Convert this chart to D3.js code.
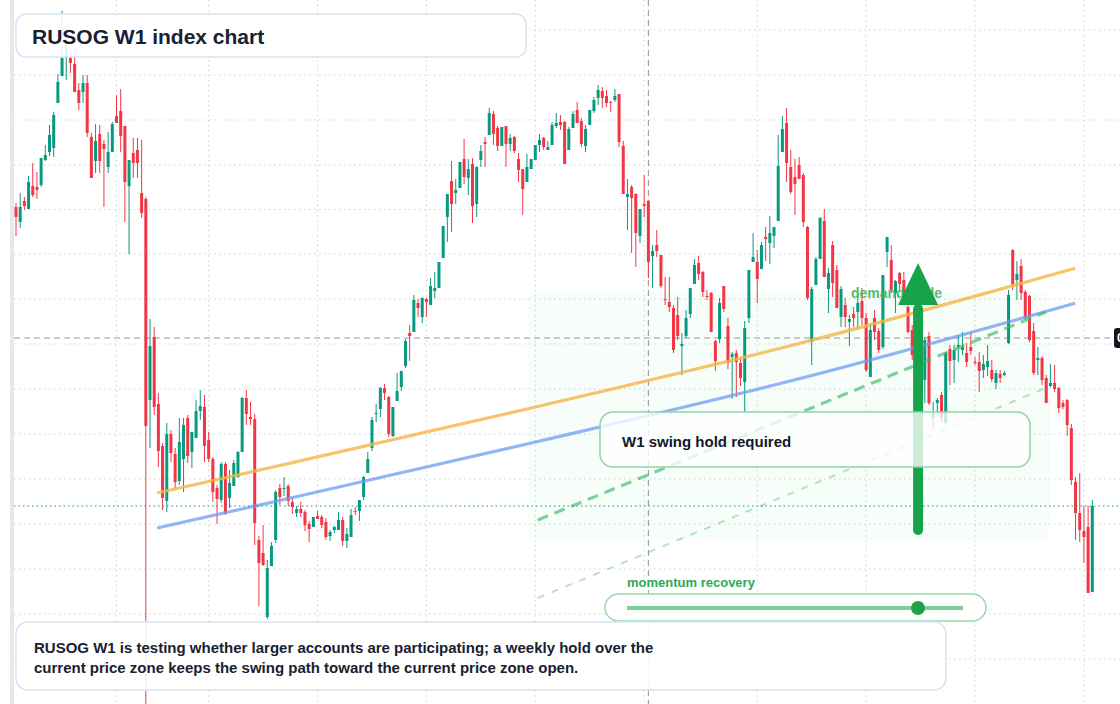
<!DOCTYPE html>
<html><head><meta charset="utf-8">
<script src="https://cdn.jsdelivr.net/npm/d3@7"></script>
<style>
html,body{margin:0;padding:0;background:#fff;overflow:hidden;}
svg{display:block;font-family:"Liberation Sans",Arial,Helvetica,sans-serif;}
</style></head><body>
<svg id="chart" width="1120" height="704"></svg>
<script>
// Weekly candles (index points)
const candleOpen = [
793,778,799,791,814,813,815,840,848,852,
897,924,942,942,936,910,908,917,863,839,
866,856,833,848,884,889,874,814,847,850,
807,801,600,663,596,554,499,566,546,519,
541,582,548,562,589,593,560,541,512,500,
536,502,514,523,548,602,583,581,460,447,
383,434,460,512,511,514,498,487,491,488,
476,473,484,483,478,464,470,470,480,459,
463,489,489,503,527,552,586,591,612,603,
564,599,613,634,667,668,697,683,701,695,
709,712,742,783,819,807,812,841,822,836,
796,840,858,865,886,872,854,874,856,863,
841,831,818,831,840,855,862,850,855,874,
878,878,850,872,890,879,854,875,889,902,
909,904,898,900,906,854,803,813,806,764,
796,799,744,755,745,701,698,692,685,654,
664,686,716,737,728,704,707,659,661,714,
674,643,647,637,618,682,738,738,731,763,
757,764,779,848,877,833,823,835,825,773,
658,715,741,779,711,755,730,683,695,678,
686,688,699,682,623,682,669,653,748,740,
707,727,720,693,670,645,625,620,664,582,
597,605,577,651,640,653,650,647,653,638,
638,630,633,630,617,626,625,657,750,720,
734,708,704,669,640,642,622,614,617,612,
597,600,572,518,487,469,473,408];
const candleHigh = [
797,807,803,824,837,828,842,855,875,888,
926,989,958,950,952,917,925,925,867,876,
875,860,868,878,905,911,874,840,862,862,
860,803,681,673,607,557,577,570,552,582,
582,585,568,600,610,605,568,543,515,538,
538,530,540,549,603,610,598,586,464,475,
440,458,510,516,523,516,502,494,498,490,
479,483,489,485,482,470,474,488,483,472,
491,493,500,524,548,583,596,613,616,604,
593,627,629,661,675,705,701,703,702,722,
728,738,774,806,839,821,838,861,841,842,
834,855,863,892,889,874,873,874,866,864,
847,831,846,841,855,866,863,859,878,887,
885,879,873,889,898,882,875,890,903,915,
913,910,899,911,906,859,821,815,807,791,
825,800,755,770,745,723,723,695,703,667,
690,712,741,744,729,710,708,660,702,714,
682,648,650,642,679,730,767,750,758,773,
784,773,865,884,892,850,841,843,827,774,
713,743,783,791,732,759,735,714,702,685,
693,707,712,687,677,690,672,725,763,755,
720,728,728,695,675,660,655,663,668,598,
602,608,648,655,655,665,668,657,668,643,
648,645,655,640,630,630,629,710,751,739,
741,710,705,677,653,644,625,636,635,613,
600,601,576,523,527,494,494,500];
const candleLow = [
764,772,790,791,803,801,813,839,844,843,
897,924,920,927,908,890,897,863,822,827,
827,793,827,848,877,848,778,746,822,822,
782,290,552,585,533,490,488,538,512,515,
508,537,532,562,580,538,538,498,476,497,
485,492,514,522,548,575,575,455,394,434,
381,434,457,495,504,494,486,483,483,469,
458,473,481,472,460,459,467,470,454,452,
463,485,479,500,527,549,578,583,600,563,
563,599,609,632,639,668,683,677,683,695,
702,712,742,758,768,796,812,816,805,777,
783,833,833,865,855,849,854,833,849,847,
818,785,818,831,840,848,850,850,855,872,
870,836,850,872,877,853,848,875,887,895,
892,893,888,898,853,806,770,747,733,757,
783,722,712,743,712,695,688,647,660,625,
662,682,716,720,703,700,668,629,657,688,
631,601,603,614,588,677,738,697,731,739,
736,752,779,848,818,806,785,821,773,700,
635,715,741,723,687,703,692,673,673,654,
673,670,675,628,623,660,647,651,733,707,
687,710,700,667,640,615,610,597,595,570,
587,577,574,615,617,638,645,633,645,635,
608,622,624,618,611,617,624,656,710,700,
700,680,658,625,625,615,597,613,608,587,
591,564,515,460,458,437,407,408];
const candleClose = [
783,793,794,818,805,810,842,845,865,885,
918,942,953,937,908,897,917,867,822,859,
839,851,848,876,877,864,818,840,837,837,
787,574,654,593,549,502,566,547,518,558,
575,544,568,589,594,554,541,508,501,536,
487,517,537,548,602,586,581,477,437,435,
432,454,508,503,512,499,493,491,487,475,
471,483,481,475,463,468,473,480,459,466,
485,488,500,523,541,580,587,612,607,566,
593,609,629,659,664,700,692,702,698,714,
712,738,774,806,796,810,838,823,831,794,
833,849,856,887,866,854,873,856,862,849,
830,811,833,841,855,860,853,853,875,877,
875,836,871,886,877,856,871,890,900,910,
902,897,897,904,858,806,806,802,767,791,
794,738,749,749,714,700,693,650,664,656,
682,712,735,726,708,703,668,639,697,691,
637,646,638,622,672,730,743,721,755,761,
767,773,834,871,837,808,816,821,778,702,
711,741,782,723,727,717,692,711,683,681,
682,697,682,630,670,668,650,725,763,710,
719,716,704,668,645,625,650,660,597,587,
600,582,647,639,650,655,653,638,649,637,
629,636,639,621,627,622,627,705,715,726,
707,682,660,627,642,620,597,617,611,592,
593,575,520,487,470,463,407,494];

// grid ticks (price levels and candle indices)
const gridPrices = [970, 925, 880, 835, 790.5, 746, 701, 656, 611, 566, 521, 476, 431, 386, 341];
const gridIndex = [24, 46, 72, 98, 124, 150, 177, 203, 229, 255];
const crosshairIndex = 151;
const crosshairPrice = 662;
const crosshairLabel = "0.662";

// trend lines (candle index, price)
const upperTrendIdx = [33.7, 60.6, 125.1, 187.2, 252.9];
const upperTrendPrice = [507, 532.3, 594, 656.7, 731.7];
const lowerTrendIdx = [33.7, 60.6, 125.1, 187.2, 252.9];
const lowerTrendPrice = [472, 497.3, 559, 621.5, 696.7];
const channelIdx = [124.6, 245.9];
const channelUpperPrice = [480, 688];
const channelLowerPrice = [402, 612];

// demand zone and annotations
const zoneIdx = [122, 246.9];
const zonePrice = [460, 709];
const arrowIdx = 215.4;
const arrowPrice = [470, 737];
const momentumValue = 0.866;

const titleText = "RUSOG W1 index chart";
const noteLines = ["RUSOG W1 is testing whether larger accounts are participating; a weekly hold over the",
                   "current price zone keeps the swing path toward the current price zone open."];
const holdText = "W1 swing hold required";
const zoneText = "demand node";
const sliderText = "momentum recovery";

const W = 1120, H = 704;
const N = candleOpen.length;
const svg = d3.select("#chart");
const x = d3.scaleLinear().domain([0, N - 1]).range([16, 1092.3]);
const y = d3.scaleLinear().domain([296, 1000]).range([704, 0]);

svg.append("rect").attr("width", W).attr("height", H).attr("fill", "#ffffff");
svg.append("rect").attr("x", 10).attr("y", 0).attr("width", 4).attr("height", H).attr("fill", "#e8e8e8");

// grid
const grid = svg.append("g").attr("stroke", "#cfd2d6").attr("stroke-width", 1).attr("stroke-dasharray", "1.5,3.5");
grid.selectAll("line.h").data(gridPrices).join("line").attr("class", "h")
  .attr("x1", 14).attr("x2", W).attr("y1", d => y(d)).attr("y2", d => y(d));
grid.selectAll("line.v").data(gridIndex).join("line").attr("class", "v")
  .attr("x1", d => x(d)).attr("x2", d => x(d)).attr("y1", 0).attr("y2", H);

// zone
svg.append("rect")
  .attr("x", x(zoneIdx[0])).attr("width", x(zoneIdx[1]) - x(zoneIdx[0]))
  .attr("y", y(zonePrice[1])).attr("height", y(zonePrice[0]) - y(zonePrice[1]))
  .attr("rx", 12).attr("fill", "#22c55e").attr("fill-opacity", 0.035);

// crosshair
svg.append("line").attr("x1", x(crosshairIndex)).attr("x2", x(crosshairIndex)).attr("y1", 0).attr("y2", H)
  .attr("stroke", "#9a9a9a").attr("stroke-width", 1.1).attr("stroke-dasharray", "6,4");
svg.append("line").attr("x1", 14).attr("x2", 1114).attr("y1", y(crosshairPrice)).attr("y2", y(crosshairPrice))
  .attr("stroke", "#9a9a9a").attr("stroke-width", 1.1).attr("stroke-dasharray", "6,4");

// candles
const idx = d3.range(N);
const up = "#089981", down = "#f23645";
const cg = svg.append("g");
cg.selectAll("line").data(idx).join("line")
  .attr("x1", i => x(i)).attr("x2", i => x(i))
  .attr("y1", i => y(candleHigh[i])).attr("y2", i => y(candleLow[i]))
  .attr("stroke", i => candleClose[i] >= candleOpen[i] ? up : down).attr("stroke-width", 1);
cg.selectAll("rect").data(idx).join("rect")
  .attr("x", i => x(i) - 1.5).attr("width", 3)
  .attr("y", i => y(Math.max(candleOpen[i], candleClose[i])))
  .attr("height", i => Math.max(1, Math.abs(y(candleOpen[i]) - y(candleClose[i]))))
  .attr("fill", i => candleClose[i] >= candleOpen[i] ? up : down);

// trend lines
const curve = d3.line().x(d => x(d[0])).y(d => y(d[1])).curve(d3.curveMonotoneX);
svg.append("path").attr("d", curve(d3.zip(upperTrendIdx, upperTrendPrice)))
  .attr("fill", "none").attr("stroke", "#f5b544").attr("stroke-opacity", 0.8).attr("stroke-width", 3.2);
svg.append("path").attr("d", curve(d3.zip(lowerTrendIdx, lowerTrendPrice)))
  .attr("fill", "none").attr("stroke", "#6e9cf0").attr("stroke-opacity", 0.75).attr("stroke-width", 3.2);
svg.append("path").attr("d", curve(d3.zip(channelIdx, channelUpperPrice)))
  .attr("fill", "none").attr("stroke", "#3dbb65").attr("stroke-opacity", 0.65).attr("stroke-width", 3.2)
  .attr("stroke-dasharray", "11,7");
svg.append("path").attr("d", curve(d3.zip(channelIdx, channelLowerPrice)))
  .attr("fill", "none").attr("stroke", "#4cc279").attr("stroke-opacity", 0.42).attr("stroke-width", 2)
  .attr("stroke-dasharray", "7,8");

// last price line
svg.append("line").attr("x1", 14).attr("x2", W)
  .attr("y1", y(candleClose[N - 1])).attr("y2", y(candleClose[N - 1]))
  .attr("stroke", up).attr("stroke-width", 1.2).attr("stroke-dasharray", "1.5,3");

// zone label
svg.append("text").attr("x", 851).attr("y", 298).text(zoneText)
  .attr("font-size", 14).attr("font-weight", "bold").attr("fill", "#3fb565").attr("fill-opacity", 0.92);

// arrow
const ax = x(arrowIdx), aBase = y(arrowPrice[0]), aTip = y(arrowPrice[1]);
svg.append("line").attr("x1", ax).attr("x2", ax).attr("y1", aBase).attr("y2", aTip + 46)
  .attr("stroke", "#16a34a").attr("stroke-width", 10).attr("stroke-linecap", "round");
svg.append("path").attr("d", `M${ax - 20},${aTip + 42} L${ax + 20},${aTip + 42} L${ax},${aTip} Z`).attr("fill", "#16a34a");

// hold box
svg.append("rect").attr("x", 600).attr("y", 412).attr("width", 430).attr("height", 55).attr("rx", 13)
  .attr("fill", "#ffffff").attr("fill-opacity", 0.78).attr("stroke", "#8fd3a6").attr("stroke-width", 1.5);
svg.append("text").attr("x", 622).attr("y", 447).text(holdText)
  .attr("font-size", 15).attr("font-weight", "bold").attr("fill", "#111827");

// momentum slider
svg.append("text").attr("x", 627).attr("y", 587).text(sliderText)
  .attr("font-size", 13).attr("font-weight", "bold").attr("fill", "#2ea85a");
svg.append("rect").attr("x", 605).attr("y", 594).attr("width", 381).attr("height", 27).attr("rx", 13.5)
  .attr("fill", "#ffffff").attr("stroke", "#9ad7ae").attr("stroke-width", 1.5);
const sx = d3.scaleLinear().domain([0, 1]).range([627, 963]);
svg.append("line").attr("x1", sx(0)).attr("x2", sx(1)).attr("y1", 608).attr("y2", 608)
  .attr("stroke", "#7ccf96").attr("stroke-width", 4);
svg.append("circle").attr("cx", sx(momentumValue)).attr("cy", 608).attr("r", 7).attr("fill", "#22a04c");

// title
svg.append("rect").attr("x", 16).attr("y", 14).attr("width", 510).attr("height", 43).attr("rx", 10)
  .attr("fill", "#ffffff").attr("fill-opacity", 0.88).attr("stroke", "#d5e3f5").attr("stroke-width", 1.5);
svg.append("text").attr("x", 32).attr("y", 43.5).text(titleText)
  .attr("font-size", 21).attr("font-weight", "bold").attr("fill", "#172131");

// note
svg.append("rect").attr("x", 16).attr("y", 622).attr("width", 930).attr("height", 68).attr("rx", 12)
  .attr("fill", "#ffffff").attr("fill-opacity", 0.88).attr("stroke", "#d5e3f5").attr("stroke-width", 1.5);
svg.append("g").selectAll("text").data(noteLines).join("text")
  .attr("x", 34).attr("y", (d, i) => 653 + i * 20).text(d => d)
  .attr("font-size", 15).attr("font-weight", "bold").attr("fill", "#172131");

// price label (cut by the right edge, as in the source)
svg.append("rect").attr("x", 1114).attr("y", y(crosshairPrice) - 10).attr("width", 60).attr("height", 20).attr("rx", 3).attr("fill", "#131722");
svg.append("text").attr("x", 1117).attr("y", y(crosshairPrice) + 4).text(crosshairLabel)
  .attr("font-size", 12).attr("font-weight", "bold").attr("fill", "#ffffff");
</script>
</body></html>
